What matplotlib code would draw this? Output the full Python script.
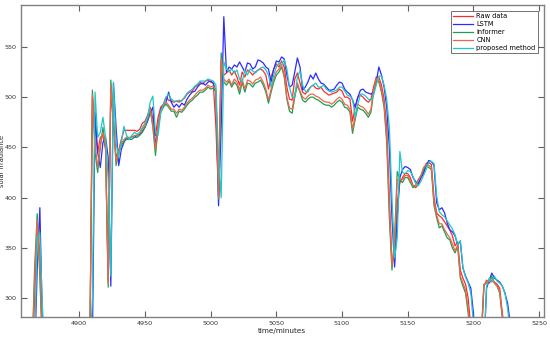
import numpy as np
import matplotlib
matplotlib.use('Agg')
import matplotlib.pyplot as plt

# time axis (minutes), one sample every 2 minutes
minutes = np.arange(4864, 5231, 2)

raw_data = [
    230, 300, 375, 345, 250, 240, 240, 240, 240, 240,
    240, 240, 240, 240, 240, 240, 240, 240, 240, 240,
    240, 240, 250, 500, 470, 445, 460, 462, 448, 318,
    505, 475, 440, 447, 458, 467, 467, 467, 467, 467,
    466, 468, 474, 476, 482, 490, 478, 462, 480, 490,
    493, 500, 497, 496, 495, 496, 495, 497, 499, 503,
    505, 506, 510, 512, 515, 513, 516, 517, 515, 514,
    470, 402, 535, 522, 524, 527, 522, 526, 520, 512,
    525, 520, 527, 525, 522, 525, 527, 528, 526, 522,
    508, 520, 528, 533, 530, 536, 530, 510, 498, 497,
    518, 524, 514, 505, 503, 507, 510, 512, 509, 508,
    510, 506, 504, 502, 503, 504, 505, 508, 506, 500,
    500, 498, 476, 490, 500, 502, 500, 497, 495, 498,
    510, 520, 520, 512, 498, 470, 400, 335, 345, 395,
    415, 420, 424, 424, 420, 412, 410, 413, 420, 425,
    434, 435, 433, 400, 385, 382, 380, 376, 372, 368,
    362, 352, 356, 328, 320, 314, 300, 270, 240, 240,
    240, 260, 312, 318, 315, 318, 316, 314, 310, 285,
    265, 240, 240, 240,
]

lstm = [
    230, 240, 330, 390, 270, 240, 240, 240, 240, 240,
    240, 240, 240, 240, 240, 240, 240, 240, 240, 240,
    240, 240, 240, 260, 485, 445, 430, 455, 460, 440,
    312, 514, 470, 432, 448, 455, 460, 458, 461, 460,
    462, 463, 466, 470, 476, 484, 490, 451, 470, 488,
    492, 495, 505, 495, 490, 493, 490, 494, 492, 498,
    502, 505, 506, 510, 513, 514, 512, 515, 516, 514,
    505, 392, 470, 580, 525, 530, 528, 532, 530, 535,
    530, 525, 534, 533, 528, 530, 537, 536, 534, 530,
    528, 515, 528, 536, 535, 540, 538, 522, 510, 512,
    525, 539, 530, 507, 510, 515, 522, 518, 524, 518,
    514, 513, 510, 507, 507, 508, 512, 515, 514, 508,
    505, 503, 497, 490, 500, 507, 508, 505, 504, 503,
    505, 515, 530, 522, 510, 490, 450, 380, 331, 380,
    420, 428, 431, 430, 428, 420, 416, 414, 420, 424,
    432, 437, 436, 432, 395, 388, 390, 385, 375, 368,
    366, 362, 353, 357, 330, 322, 316, 310, 285, 240,
    240, 240, 250, 310, 318, 325, 320, 318, 316, 312,
    305, 295, 275, 240,
]

informer = [
    240, 330, 384, 320, 250, 240, 240, 240, 240, 240,
    240, 240, 240, 240, 240, 240, 240, 240, 240, 240,
    240, 240, 245, 507, 445, 425, 450, 470, 450, 311,
    517, 480, 432, 445, 452, 456, 458, 458, 458, 460,
    460, 462, 465, 470, 478, 488, 470, 442, 470, 485,
    490, 493, 490, 486, 486, 480, 486, 485, 488, 492,
    495, 497, 500, 502, 505, 505, 507, 510, 508, 509,
    505, 398, 544, 515, 512, 516, 510, 515, 512, 503,
    515, 505, 514, 513, 510, 514, 515, 517, 512, 505,
    494, 505, 515, 522, 525, 530, 520, 498, 486, 484,
    500, 512, 505, 497, 495, 498, 500, 500, 498, 497,
    495, 493, 492, 492, 490, 492, 495, 497, 495, 490,
    489, 485, 464, 478, 490, 488, 487, 484, 480, 485,
    505, 517, 515, 505, 490, 455, 380, 328, 360, 426,
    418, 415, 420, 420, 415, 410, 412, 418, 422, 428,
    432, 430, 428, 392, 380, 370, 372, 366, 360, 358,
    350, 345, 352, 320, 312, 305, 285, 250, 240, 240,
    240, 265, 314, 315, 318, 322, 315, 312, 305, 280,
    255, 240, 240, 240,
]

cnn = [
    240, 320, 378, 330, 250, 240, 240, 240, 240, 240,
    240, 240, 240, 240, 240, 240, 240, 240, 240, 240,
    240, 240, 248, 503, 455, 430, 452, 465, 452, 315,
    512, 478, 435, 447, 454, 458, 460, 460, 460, 462,
    462, 464, 468, 472, 480, 489, 472, 448, 472, 487,
    492, 495, 492, 488, 488, 484, 488, 487, 490, 494,
    497, 499, 502, 505, 507, 507, 509, 512, 510, 511,
    507, 400, 538, 518, 515, 518, 512, 518, 515, 507,
    518, 508, 517, 516, 513, 517, 518, 520, 515, 508,
    497, 508, 518, 525, 528, 532, 522, 500, 489, 488,
    503, 514, 506, 500, 498, 501, 503, 503, 501, 500,
    498, 496, 495, 495, 493, 495, 498, 500, 498, 493,
    492, 488, 468, 481, 493, 491, 490, 487, 483, 488,
    507, 518, 517, 507, 493, 460, 390, 332, 352, 418,
    418, 418, 422, 422, 417, 412, 412, 417, 422, 430,
    433, 432, 430, 395, 383, 374, 374, 368, 364, 360,
    354, 347, 353, 322, 315, 308, 290, 255, 240, 240,
    240, 262, 313, 316, 317, 320, 315, 312, 307, 282,
    258, 240, 240, 240,
]

proposed = [
    230, 250, 360, 365, 290, 240, 240, 240, 240, 240,
    240, 240, 240, 240, 240, 240, 240, 240, 240, 240,
    240, 240, 240, 300, 505, 460, 465, 480, 460, 420,
    322, 515, 455, 440, 455, 471, 462, 458, 462, 465,
    463, 465, 470, 474, 480, 495, 501, 465, 462, 485,
    492, 500, 503, 498, 496, 496, 497, 496, 500, 504,
    506, 508, 511, 513, 516, 516, 516, 518, 517, 516,
    512, 440, 400, 535, 528, 525, 528, 524, 527, 518,
    515, 527, 522, 528, 526, 524, 527, 529, 530, 527,
    522, 510, 522, 530, 534, 532, 537, 528, 510, 500,
    500, 520, 526, 512, 506, 505, 510, 512, 514, 510,
    510, 512, 508, 506, 505, 506, 507, 510, 510, 506,
    502, 501, 498, 480, 493, 503, 503, 501, 498, 497,
    502, 512, 521, 521, 512, 498, 470, 400, 340, 360,
    446, 425, 424, 427, 426, 421, 414, 412, 416, 422,
    428, 435, 436, 434, 402, 386, 383, 381, 377, 373,
    369, 363, 353, 357, 330, 321, 315, 305, 275, 240,
    240, 240, 250, 312, 320, 316, 322, 317, 315, 312,
    305, 290, 265, 240,
]

labels = ['Raw data', 'LSTM', 'informer', 'CNN', 'proposed method']
colors = ['#ff2a2a', '#2b2bff', '#1f9e50', '#e8684a', '#1fc8c8']

fig = plt.figure(figsize=(5.5, 3.38), dpi=100)
ax = fig.add_axes([0.0376, 0.0612, 0.951, 0.925])

for series, lab, col in zip([raw_data, lstm, informer, cnn, proposed], labels, colors):
    ax.plot(minutes, series, color=col, lw=0.9, label=lab)

ax.set_xlim(4855.4, 5253.5)
ax.set_ylim(281, 592)
ax.set_xticks([4900, 4950, 5000, 5050, 5100, 5150, 5200, 5250])
ax.set_yticks([300, 350, 400, 450, 500, 550])

ax.tick_params(direction='in', length=4, width=0.8, labelsize=4.6, colors='#606060',
               labelcolor='#333333', top=True, right=True, pad=3)
for sp in ax.spines.values():
    sp.set_color('#808080')
    sp.set_linewidth(1.0)

ax.set_xlabel('time/minutes', fontsize=5.2, labelpad=1, color='#222222')
ax.set_ylabel('solar irradiance', fontsize=4.8, color='#222222')
ax.yaxis.set_label_coords(-0.03, 0.5)

leg = ax.legend(loc='upper right', fontsize=4.8, frameon=True, fancybox=False,
                borderaxespad=0.9, handlelength=3.0, labelspacing=0.3,
                borderpad=0.35, handletextpad=0.4)
leg.get_frame().set_edgecolor('#333333')
leg.get_frame().set_linewidth(0.6)

fig.savefig('out.png', dpi=100)
